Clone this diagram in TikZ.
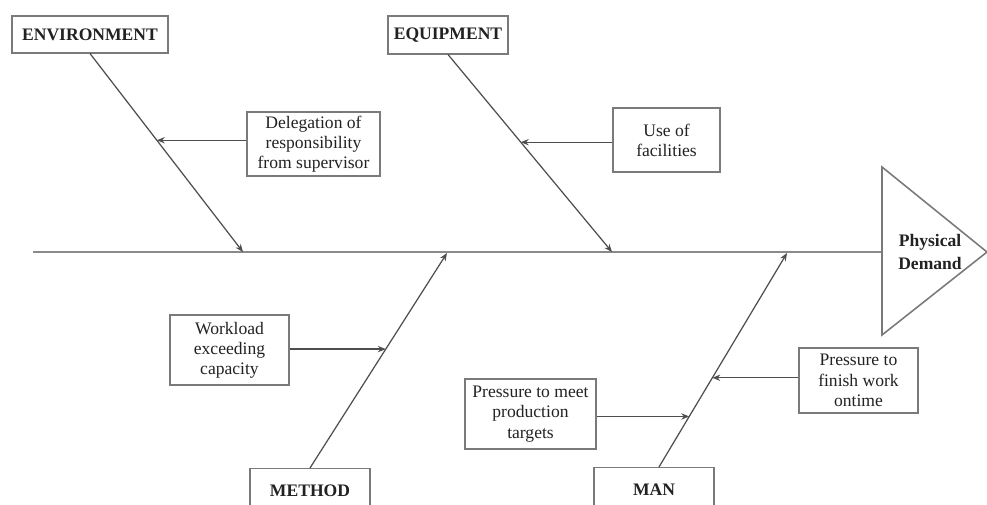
\documentclass[tikz,border=0pt]{standalone}
\usepackage{fontspec}
\setmainfont{Liberation Serif}
\usetikzlibrary{arrows.meta}
\definecolor{bonegray}{HTML}{8A8A8A}
\definecolor{boxgray}{HTML}{7A7A7A}
\definecolor{textdark}{HTML}{222222}

\begin{document}
\begin{tikzpicture}[x=0.02cm, y=-0.02cm, font=\fontsize{10}{11.5}\selectfont, text=textdark,
    >={Stealth[length=4.5pt, width=3.6pt]},
    cause/.style={draw=boxgray, line width=0.6pt, fill=white, inner sep=1pt, align=center, font=\fontsize{10}{11.5}\selectfont\bfseries},
    reason/.style={draw=boxgray, line width=0.6pt, fill=white, inner sep=1pt, align=center},
    bone/.style={->, draw=textdark!80, line width=0.7pt}]

    \useasboundingbox (0,0) rectangle (987,504);

    % Spine and head
    \coordinate (tail) at (33,252);
    \coordinate (head) at (882,252);
    \draw[bonegray, line width=1.1pt] (tail) -- (head);
    \draw[boxgray, line width=0.9pt] (882,167) -- (987,252) -- (882,335) -- cycle;
    \node[font=\fontsize{10}{13}\selectfont\bfseries, align=center] (demand) at (930,252) {Physical\\Demand};

    % Points on the spine
    \coordinate (envend) at (243,252);
    \coordinate (equipend) at (612,252);
    \coordinate (methodend) at (447,253);
    \coordinate (manend) at (787,253);

    % Main causes
    \node[cause, minimum width=3.12cm, minimum height=0.74cm] (env) at (90,34.5) {ENVIRONMENT};
    \node[cause, minimum width=2.4cm, minimum height=0.76cm] (equip) at (448,35) {EQUIPMENT};
    \node[cause, minimum width=2.4cm, minimum height=0.9cm] (method) at (310,491) {METHOD};
    \node[cause, minimum width=2.4cm, minimum height=0.9cm] (man) at (654,490) {MAN};

    % Bones
    \draw[bone] (env.south) -- (envend) coordinate[pos=0.437] (envhit);
    \draw[bone] (equip.south) -- (equipend) coordinate[pos=0.444] (equiphit);
    \draw[bone] (method.north) -- (methodend) coordinate[pos=0.553] (methodhit);
    \draw[bone] ([xshift=0.1cm]man.north) -- (manend) coordinate[pos=0.236] (manhitA) coordinate[pos=0.417] (manhitB);

    % Sub causes
    \node[reason, minimum width=2.66cm, minimum height=1.28cm] (deleg) at (313.5,144) {Delegation of\\responsibility\\from supervisor};
    \node[reason, minimum width=2.14cm, minimum height=1.28cm] (facil) at (666.5,140) {Use of\\facilities};
    \node[reason, minimum width=2.38cm, minimum height=1.4cm] (workload) at (229.5,350) {Workload\\exceeding\\capacity};
    \node[reason, minimum width=2.62cm, minimum height=1.4cm] (meet) at (530.5,414) {Pressure to meet\\production\\targets};
    \node[reason, minimum width=2.38cm, minimum height=1.3cm] (finish) at (858.5,380.5) {Pressure to\\finish work\\ontime};

    \draw[bone] (envhit -| deleg.west) -- (envhit);
    \draw[bone] (equiphit -| facil.west) -- (equiphit);
    \draw[bone] (methodhit -| workload.east) -- (methodhit);
    \draw[bone] (manhitA -| meet.east) -- (manhitA);
    \draw[bone] (manhitB -| finish.west) -- (manhitB);

\end{tikzpicture}
\end{document}
